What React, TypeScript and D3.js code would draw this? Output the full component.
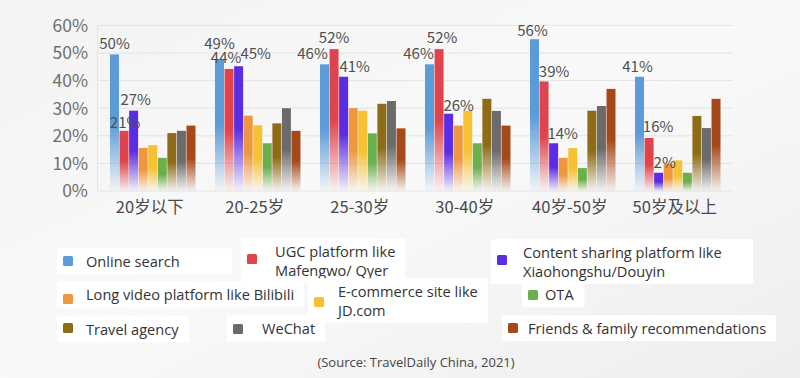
import React, { useEffect, useRef } from "react";
import * as d3 from "d3";

const categories = ["20岁以下", "20-25岁", "25-30岁", "30-40岁", "40岁-50岁", "50岁及以上"];
const seriesNames = [
  "Online search",
  "UGC platform like\nMafengwo/ Qyer",
  "Content sharing platform like\nXiaohongshu/Douyin",
  "Long video platform like Bilibili",
  "E-commerce site like\nJD.com",
  "OTA",
  "Travel agency",
  "WeChat",
  "Friends & family recommendations",
];
const seriesColors = ["#5b9bd8", "#e0434b", "#5a2de4", "#ee9640", "#f6c233", "#6cb04e", "#8d6b17", "#6b6b6b", "#a5491a"];

const onlineSearch = [49.5, 47.7, 45.9, 45.9, 55, 41.4];
const ugcPlatform = [21.8, 44.2, 51.4, 51.4, 39.7, 19.2];
const contentSharing = [29.1, 45.2, 41.4, 28, 17.3, 6.6];
const longVideo = [15.6, 27.3, 30, 23.7, 12, 9.8];
const eCommerce = [16.6, 23.8, 29.1, 29.1, 15.6, 11.1];
const ota = [12, 17.3, 20.9, 17.3, 8.3, 6.6];
const travelAgency = [21, 24.5, 31.6, 33.4, 29.1, 27.2];
const weChat = [21.8, 30, 32.6, 29, 30.8, 22.8];
const friendsFamily = [23.7, 21.8, 22.7, 23.7, 37, 33.4];
const seriesValues = [onlineSearch, ugcPlatform, contentSharing, longVideo, eCommerce, ota, travelAgency, weChat, friendsFamily];

// printed labels for the first three series in each group
const valueLabels = [
  ["50%", "21%", "27%"],
  ["49%", "44%", "45%"],
  ["46%", "52%", "41%"],
  ["46%", "52%", "26%"],
  ["56%", "39%", "14%"],
  ["41%", "16%", "2%"],
];
const yTicks = [0, 10, 20, 30, 40, 50, 60];

// layout (not data)
const labelDx = [[0, 1, 2], [0, -3, 17], [-12, 0, 11], [-11, 3, 10], [-2, 10, 9], [-2, 9, 6]];
const labelDy = [[-11, -8, -11], [-16, -11, -13], [-11, -12, -10], [-11, -12, -8], [-9, -10, -10], [-10, -11, -10]];
const legendLayout = [
  { sx: 63, sy: 261, tx: 86, ty: 262, bw: 175 },
  { sx: 247, sy: 259, tx: 275, ty: 252, bw: 0 },
  { sx: 497, sy: 260, tx: 523, ty: 253, bw: 262 },
  { sx: 63, sy: 299, tx: 86, ty: 295, bw: 0 },
  { sx: 314, sy: 302, tx: 338, ty: 292, bw: 0 },
  { sx: 528, sy: 295, tx: 545, ty: 295, bw: 0 },
  { sx: 63, sy: 328, tx: 86, ty: 330, bw: 0 },
  { sx: 233, sy: 329, tx: 262, ty: 329, bw: 0 },
  { sx: 508, sy: 328, tx: 528, ty: 329, bw: 270 },
];

const W = 800, H = 378;

export default function App() {
  const ref = useRef<SVGSVGElement | null>(null);
  useEffect(() => {
    const svg = d3.select(ref.current);
    svg.selectAll("*").remove();
    const defs = svg.append("defs");

    const bg = defs.append("linearGradient").attr("id", "bg").attr("x1", 0).attr("y1", 0).attr("x2", 1).attr("y2", 1);
    bg.append("stop").attr("offset", "0%").attr("stop-color", "#f3f3f3");
    bg.append("stop").attr("offset", "50%").attr("stop-color", "#f9f9f9");
    bg.append("stop").attr("offset", "100%").attr("stop-color", "#eeeeee");
    svg.append("rect").attr("width", W).attr("height", H).attr("fill", "url(#bg)");

    seriesColors.forEach((c, i) => {
      const g = defs.append("linearGradient").attr("id", "bar" + i).attr("x1", 0).attr("y1", 0).attr("x2", 0).attr("y2", 1);
      g.append("stop").attr("offset", "0%").attr("stop-color", c);
      g.append("stop").attr("offset", "50%").attr("stop-color", c);
      g.append("stop").attr("offset", "100%").attr("stop-color", c).attr("stop-opacity", 0.03);
    });

    const x0 = d3.scaleBand<string>().domain(categories).range([97.5, 733]).paddingInner(0.186).paddingOuter(0.119);
    const x1 = d3.scaleBand<number>().domain(d3.range(seriesNames.length)).range([0, x0.bandwidth()]).paddingInner(0.06);
    const y = d3.scaleLinear().domain([0, 60]).range([191, 25.4]);

    const grid = svg.append("g");
    grid.selectAll("line").data(yTicks).join("line")
      .attr("x1", 97.5).attr("x2", 733)
      .attr("y1", (d) => y(d)).attr("y2", (d) => y(d))
      .attr("stroke", "#e4e4e4").attr("stroke-width", 1);
    svg.append("line").attr("x1", 97.5).attr("x2", 97.5).attr("y1", y(60)).attr("y2", y(0)).attr("stroke", "#e4e4e4");

    svg.append("g").selectAll("text").data(yTicks).join("text")
      .attr("x", 88).attr("y", (d) => y(d)).attr("dy", "0.36em")
      .attr("text-anchor", "end")
      .attr("font-family", "Noto Sans CJK SC, sans-serif").attr("font-size", 17.5)
      .attr("fill", "#6e6e6e")
      .text((d) => d + "%");

    const groups = svg.append("g").selectAll("g").data(categories).join("g")
      .attr("transform", (d) => `translate(${x0(d)},0)`);
    groups.selectAll("rect").data((_, gi) => seriesValues.map((s, si) => ({ v: s[gi], si })))
      .join("rect")
      .attr("x", (d) => x1(d.si)!)
      .attr("width", x1.bandwidth())
      .attr("y", (d) => y(d.v))
      .attr("height", (d) => y(0) - y(d.v))
      .attr("fill", (d) => `url(#bar${d.si})`);

    // value labels
    const lab = svg.append("g");
    categories.forEach((c, gi) => {
      valueLabels[gi].forEach((t, si) => {
        const cx = x0(c)! + x1(si)! + x1.bandwidth() / 2 + labelDx[gi][si];
        const cy = y(seriesValues[si][gi]) + labelDy[gi][si];
        lab.append("text").attr("x", cx).attr("y", cy).attr("dy", "0.36em")
          .attr("text-anchor", "middle")
          .attr("font-family", "Noto Sans CJK SC, sans-serif").attr("font-size", 15)
          .attr("fill", "#505050").text(t);
      });
    });

    svg.append("g").selectAll("text").data(categories).join("text")
      .attr("x", (d) => x0(d)! + x0.bandwidth() / 2 - 3).attr("y", 207).attr("dy", "0.36em")
      .attr("text-anchor", "middle")
      .attr("font-family", "Noto Sans CJK SC, sans-serif").attr("font-size", 16.5)
      .attr("fill", "#4a4a4a").text((d) => d);

    // legend
    const leg = svg.append("g");
    seriesNames.forEach((name, i) => {
      const L = legendLayout[i];
      const lines = name.split("\n");
      const item = leg.append("g");
      const box = item.append("rect").attr("fill", "#ffffff");
      const txt = item.append("text")
        .attr("font-family", "Open Sans, sans-serif").attr("font-size", 14.6)
        .attr("fill", "#333333");
      lines.forEach((ln, k) => {
        txt.append("tspan").attr("x", L.tx).attr("y", L.ty + k * 18.5).attr("dy", "0.36em").text(ln);
      });
      const bb = (txt.node() as SVGTextElement).getBBox();
      const w = Math.max(bb.x + bb.width - L.sx + 16, L.bw);
      box.attr("x", L.sx - 6).attr("y", bb.y - 3).attr("width", w).attr("height", bb.height + 6);
      item.append("rect").attr("x", L.sx).attr("y", L.sy - 5).attr("width", 10).attr("height", 10).attr("rx", 1.5)
        .attr("fill", seriesColors[i]);
    });

    svg.append("text").attr("x", 416).attr("y", 362).attr("dy", "0.36em").attr("text-anchor", "middle")
      .attr("font-family", "Open Sans, sans-serif").attr("font-size", 13).attr("fill", "#444")
      .text("(Source: TravelDaily China, 2021)");
  }, []);
  return <svg ref={ref} width={W} height={H} style={{ position: "absolute", left: 0, top: 0 }} />;
}
